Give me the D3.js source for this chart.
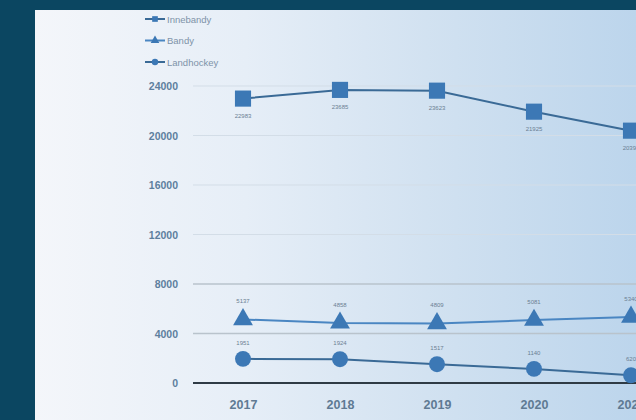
<!DOCTYPE html>
<html><head><meta charset="utf-8">
<script src="https://cdn.jsdelivr.net/npm/d3@7"></script>
<style>html,body{margin:0;padding:0;background:#0b4661;}svg{display:block;}</style>
</head><body>
<script>
const years = ["2017","2018","2019","2020","2021"];
const innebandy = [22983, 23685, 23623, 21925, 20390];
const bandy = [5137, 4858, 4809, 5081, 5340];
const landhockey = [1951, 1924, 1517, 1140, 620];
const yTicks = [0, 4000, 8000, 12000, 16000, 20000, 24000];
const seriesNames = ["Innebandy", "Bandy", "Landhockey"];

const W = 636, H = 420;
const svg = d3.select("body").append("svg").attr("width", W).attr("height", H);
const defs = svg.append("defs");
const g1 = defs.append("linearGradient").attr("id","bg").attr("x1","0").attr("x2","1").attr("y1","0").attr("y2","0");
g1.append("stop").attr("offset","0").attr("stop-color","#f4f6fa");
g1.append("stop").attr("offset","0.35").attr("stop-color","#e6eef7");
g1.append("stop").attr("offset","0.7").attr("stop-color","#cfe0f0");
g1.append("stop").attr("offset","1").attr("stop-color","#bcd5ec");
svg.append("rect").attr("width",W).attr("height",H).attr("fill","#0b4661");
svg.append("rect").attr("x",35).attr("y",10).attr("width",W-35).attr("height",H-10).attr("fill","url(#bg)");

const x = d3.scalePoint().domain(years).range([243, 631]);
const y = d3.scaleLinear().domain([0, 24000]).range([383, 86]);

// grid
svg.append("g").selectAll("line").data(yTicks.filter(d=>d>0)).join("line")
  .attr("x1",193).attr("x2",W).attr("y1",d=>y(d)).attr("y2",d=>y(d))
  .attr("stroke", d => d<=8000 ? "#b9c3cc" : "#d3dde7").attr("stroke-width", d => d<=8000 ? 1.5 : 1);

// y tick labels
svg.append("g").selectAll("text").data(yTicks).join("text")
  .attr("x",178).attr("y",d=>y(d)+4).attr("text-anchor","end")
  .attr("font-family","Liberation Sans, Arial, sans-serif").attr("font-size",10.5).attr("font-weight","bold")
  .attr("fill","#5e7f9e").text(d=>d);

// x axis
const xAxis = d3.axisBottom(x).tickSize(0).tickPadding(17);
const ax = svg.append("g").attr("transform",`translate(0,${y(0)})`).call(xAxis);
ax.select(".domain").remove();
ax.append("line").attr("x1",193).attr("x2",W).attr("y1",0).attr("y2",0).attr("stroke","#2f3b45").attr("stroke-width",2);
ax.selectAll(".tick text").attr("font-family","Liberation Sans, Arial, sans-serif").attr("font-size",12.5)
  .attr("font-weight","bold").attr("fill","#5f7a93");

const lineColor = "#3d72a6", markColor = "#3c78b5";
const line = d3.line().x((d,i)=>x(years[i])).y(d=>y(d));

const series = [
  {name:"Innebandy", vals: innebandy, sym: d3.symbolSquare, size: 260, dy: 17, lc:"#3a6a96"},
  {name:"Bandy", vals: bandy, sym: d3.symbolTriangle, size: 170, dy: -18, lc:"#4a86c2"},
  {name:"Landhockey", vals: landhockey, sym: d3.symbolCircle, size: 200, dy: -16, lc:"#3a6a96"}
];

series.forEach(s => {
  svg.append("path").datum(s.vals).attr("d", line).attr("fill","none").attr("stroke",s.lc).attr("stroke-width",2);
  svg.append("g").selectAll("path").data(s.vals).join("path")
    .attr("transform",(d,i)=>`translate(${x(years[i])},${y(d)})`)
    .attr("d", d3.symbol().type(s.sym).size(s.size)).attr("fill",markColor);
  svg.append("g").selectAll("text").data(s.vals).join("text")
    .attr("x",(d,i)=>x(years[i])).attr("y",d=>y(d)+s.dy+2).attr("text-anchor","middle")
    .attr("font-family","Liberation Sans, Arial, sans-serif").attr("font-size",6).attr("fill","#6b7f93").text(d=>d);
});

// legend
const leg = svg.append("g");
series.forEach((s,i) => {
  const ly = 19 + i*21.5;
  leg.append("line").attr("x1",145).attr("x2",165).attr("y1",ly).attr("y2",ly).attr("stroke",s.lc).attr("stroke-width",2);
  leg.append("path").attr("transform",`translate(155,${ly})`).attr("d", d3.symbol().type(s.sym).size(32)).attr("fill",markColor);
  leg.append("text").attr("x",167).attr("y",ly+3.5).attr("font-family","Liberation Sans, Arial, sans-serif")
    .attr("font-size",9.5).attr("fill","#7e93a8").text(seriesNames[i]);
});
</script>
</body></html>
